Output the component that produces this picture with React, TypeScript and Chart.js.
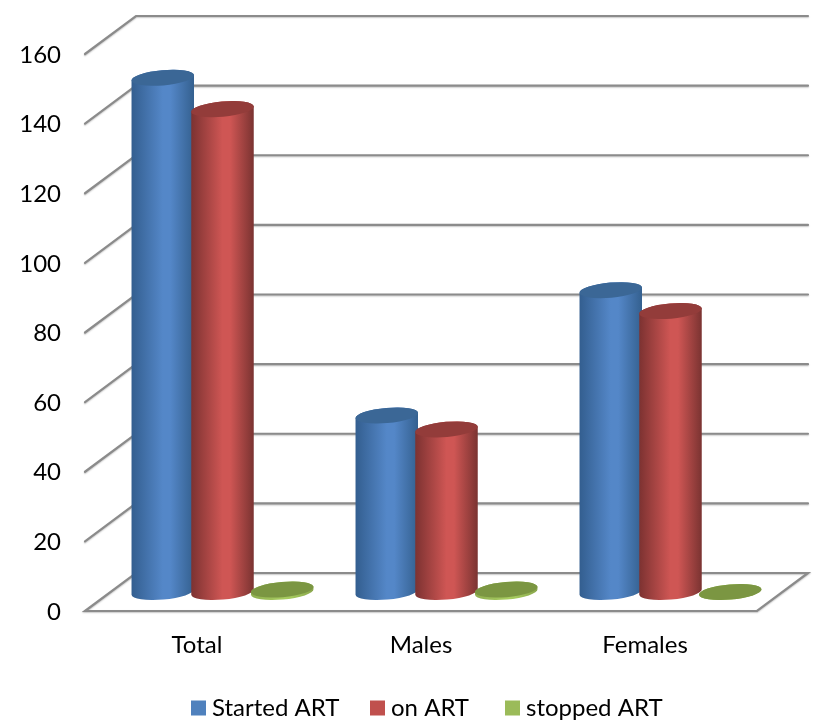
import React, { useEffect, useRef } from "react";
import { Chart, registerables } from "chart.js";

Chart.register(...registerables);

const categories = ["Total", "Males", "Females"];
const startedArt = [147.7, 50.7, 86.7];
const onArt = [138.7, 46.7, 80.7];
const stoppedArt = [0.7, 0.7, 0];
const yTicks = [0, 20, 40, 60, 80, 100, 120, 140, 160];

const FONT = "Lato, 'Open Sans', sans-serif";
const DX = 51;
const DY = -38;
const ROT = (-5 * Math.PI) / 180;
const RY = 7.6;
const LEGEND_LEFT = [191, 370, 505];

const looks = [
  { legend: "#4f81bd", edgeL: "#335e8f", mid: "#5487c8", edgeR: "#34608f", cap: "#3b6796" },
  { legend: "#c0504d", edgeL: "#7c3231", mid: "#cf5654", edgeR: "#7a3331", cap: "#933c3a" },
  { legend: "#9bbb59", edgeL: "#8fae50", mid: "#a6cb5f", edgeR: "#8aa74d", cap: "#7b9642" },
];

const cylinders = {
  id: "cylinders",
  beforeDatasetsDraw(chart: any) {
    const { ctx } = chart;
    const y = chart.scales.y;
    const x = chart.scales.x;
    ctx.save();
    ctx.strokeStyle = "#8b8b8b";
    ctx.lineWidth = 2.2;
    ctx.lineCap = "round";
    ctx.shadowColor = "rgba(0,0,0,0.22)";
    ctx.shadowBlur = 1.5;
    ctx.shadowOffsetY = 1;
    for (const v of yTicks) {
      const py = y.getPixelForValue(v);
      ctx.beginPath();
      ctx.moveTo(x.left, py);
      ctx.lineTo(x.left + DX, py + DY);
      ctx.lineTo(x.right + DX, py + DY);
      if (v === 0) {
        ctx.lineTo(x.right, py);
        ctx.closePath();
      }
      ctx.stroke();
    }
    ctx.restore();

    chart.data.datasets.forEach((_: any, d: number) => {
      const look = looks[d];
      chart.getDatasetMeta(d).data.forEach((bar: any) => {
        const cx = bar.x + DX / 2;
        const top = bar.y + DY / 2;
        const base = bar.base + DY / 2;
        const rx = (bar.width / 2) * 1.05;
        const g = ctx.createLinearGradient(cx - rx, 0, cx + rx, 0);
        g.addColorStop(0, look.edgeL);
        g.addColorStop(0.5, look.mid);
        g.addColorStop(0.62, look.mid);
        g.addColorStop(1, look.edgeR);
        ctx.beginPath();
        ctx.ellipse(cx, base, rx, RY, ROT, 0, Math.PI);
        ctx.ellipse(cx, top, rx, RY, ROT, Math.PI, 0, false);
        ctx.closePath();
        ctx.fillStyle = g;
        ctx.fill();
        ctx.beginPath();
        ctx.ellipse(cx, top, rx, RY, ROT, 0, Math.PI * 2);
        ctx.fillStyle = look.cap;
        ctx.fill();
      });
    });
    return false;
  },
  afterDraw(chart: any) {
    const { ctx } = chart;
    const box = 15;
    const gap = 6;
    ctx.save();
    ctx.font = `24px ${FONT}`;
    ctx.textBaseline = "middle";
    ctx.textAlign = "left";
    const py = 708;
    chart.data.datasets.forEach((s: any, i: number) => {
      const px = LEGEND_LEFT[i];
      ctx.fillStyle = looks[i].legend;
      ctx.fillRect(px, py - box / 2, box, box);
      ctx.fillStyle = "#000000";
      ctx.fillText(s.label, px + box + gap, py);
    });
    ctx.restore();
  },
};

export default function App() {
  const ref = useRef<HTMLCanvasElement>(null);
  useEffect(() => {
    const chart = new Chart(ref.current!, {
      type: "bar",
      data: {
        labels: categories,
        datasets: [
          { label: "Started ART", data: startedArt, backgroundColor: looks[0].legend },
          { label: "on ART", data: onArt, backgroundColor: looks[1].legend },
          { label: "stopped ART", data: stoppedArt, backgroundColor: looks[2].legend },
        ],
      },
      options: {
        responsive: false,
        animation: false,
        devicePixelRatio: 1,
        layout: { padding: { top: 54, right: 60, bottom: 57, left: 0 } },
        datasets: { bar: { categoryPercentage: 0.8, barPercentage: 1 } },
        plugins: { legend: { display: false }, tooltip: { enabled: false } },
        scales: {
          x: {
            grid: { display: false, drawTicks: false },
            border: { display: false },
            ticks: { color: "#000000", font: { family: FONT, size: 24 }, padding: 20, maxRotation: 0 },
            afterFit: (s: any) => { s.height = 60; },
          },
          y: {
            min: 0,
            max: 160,
            grid: { display: false, drawTicks: false },
            border: { display: false },
            ticks: { stepSize: 20, color: "#000000", font: { family: FONT, size: 24 }, padding: 24, labelOffset: 1 },
            afterFit: (s: any) => { s.width = 85; },
          },
        },
      } as any,
      plugins: [cylinders],
    });
    return () => chart.destroy();
  }, []);
  return (
    <canvas
      ref={ref}
      width={817}
      height={728}
      style={{ position: "absolute", left: 0, top: 0, display: "block" }}
    />
  );
}
